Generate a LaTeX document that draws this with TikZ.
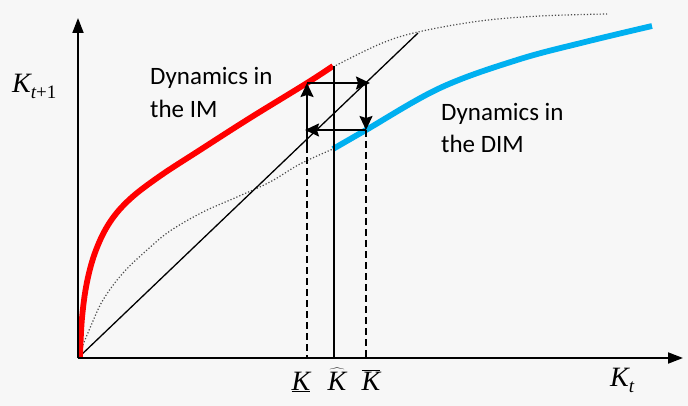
\documentclass[tikz,border=0pt]{standalone}
\usepackage{fontspec}
\setmainfont{Carlito}
\newfontfamily\mk{Liberation Serif}
\usetikzlibrary{arrows.meta}
\definecolor{bg}{RGB}{247,247,247}
\definecolor{imred}{RGB}{255,0,0}
\definecolor{dimblue}{RGB}{0,176,240}
\newcommand{\KK}{{\mk\itshape K}}
\newcommand{\subt}[1]{\raisebox{-6pt}{\fontsize{19}{20}\selectfont\mk #1}}
\tikzset{
  axis/.style={line width=1.8pt,-{Triangle[length=15pt,width=11pt]}},
  cob/.style={line width=1.8pt,-{Stealth[length=14pt,width=13pt,inset=2pt]}},
  guide/.style={line width=1.8pt,dash pattern=on 7pt off 4pt},
  solidguide/.style={line width=1.3pt},
  diag/.style={line width=1.3pt},
  dots/.style={line width=1.2pt,dotted,black!70},
  thickcurve/.style={line width=5.8pt},
  lbl/.style={inner sep=0pt,anchor=base west,font=\fontsize{25}{30}\selectfont},
  mlbl/.style={inner sep=0pt,font=\fontsize{28}{30}\selectfont}
}
\begin{document}
\begin{tikzpicture}[x=1pt,y=-1pt]
\fill[bg] (0,0) rectangle (688,406);
\useasboundingbox (0,0) rectangle (688,406);
% key coordinates
\coordinate (O) at (78,358);
\coordinate (ytop) at (78,18);
\coordinate (xend) at (683,358);
\coordinate (dtop) at (418,33);
\coordinate (A) at (307,83);
\coordinate (Astart) at (307,146);
\coordinate (Bt) at (370,83);
\coordinate (B) at (366,83);
\coordinate (C) at (366,130);
\coordinate (D) at (305,130);
\coordinate (Kl) at (307,358);
\coordinate (Kr) at (366,358);
\coordinate (Kh) at (334,358);
\coordinate (Khtop) at (334,66);
% curves
\draw[dots] plot[smooth,tension=0.6] coordinates {(78,357) (90,328) (103,300) (123,273) (147,250) (170,231) (203,212) (237,197) (270,182) (300,164) (333,149)};
\draw[dots] plot[smooth,tension=0.6] coordinates {(333,67) (380,44) (418,32) (480,21) (540,16) (607,14)};
\draw[diag] (O) -- (dtop);
\draw[thickcurve,imred,line cap=butt] plot[smooth,tension=0.6] coordinates {(80,357) (82,318) (87,282) (96,250) (110,222) (130,199) (160,176) (200,150) (250,118) (307,83) (333,66)};
\draw[thickcurve,dimblue] plot[smooth,tension=0.6] coordinates {(333,149) (366,130) (440,88) (517,60) (585,42) (652,26)};
% guides
\draw[guide] (Astart) -- (Kl);
\draw[guide] (C) -- (Kr);
\draw[solidguide] (Kh) -- (Khtop);
% cobweb
\draw[cob] (Astart) -- (A);
\draw[cob] (A) -- (Bt);
\draw[cob] (B) -- (C);
\draw[cob] (C) -- (D);
% axes
\draw[axis] (O) -- (ytop);
\draw[axis] (O) -- (xend);
% labels
\node[lbl] (t1) at (150,85) {Dynamics in};
\node[lbl] (t2) at (150,118) {the IM};
\node[lbl] (t3) at (441,121) {Dynamics in};
\node[lbl] (t4) at (441,153) {the DIM};
\node[mlbl,anchor=base west] (ky) at (12,93) {\KK\subt{\itshape t}\subt{+1}};
\node[mlbl,anchor=base west] (kx) at (610,386) {\KK\subt{\itshape t}};
\node[mlbl,anchor=base] (k1) at (301,390) {\underline{\KK}};
\node[mlbl,anchor=base] (k2) at (337,390) {$\widehat{\hbox{\KK}}$};
\node[mlbl,anchor=base] (k3) at (371,390) {$\overline{\hbox{\KK}}$};
\end{tikzpicture}
\end{document}
